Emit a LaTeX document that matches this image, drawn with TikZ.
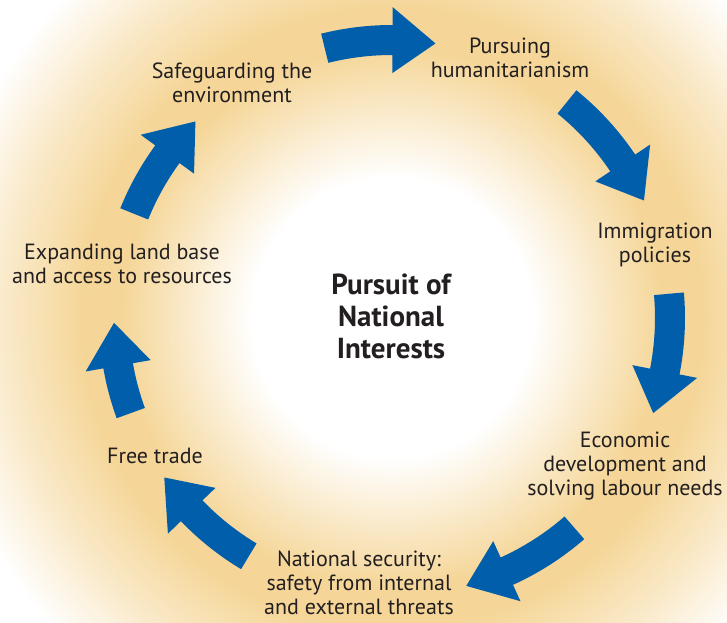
\documentclass[tikz,border=0pt]{standalone}
\usepackage{fontspec}
\setmainfont{PT Sans}
\definecolor{glow}{RGB}{245,214,152}
\definecolor{arrowblue}{RGB}{0,94,170}
\definecolor{ink}{RGB}{35,31,32}
% soft orange ring around a white centre
\pgfdeclareradialshading{ringglow}{\pgfpointorigin}{%
  color(0bp)=(white); color(7bp)=(white); color(13.5bp)=(glow);
  color(15.5bp)=(glow); color(19.5bp)=(glow!50!white); color(23bp)=(white);
  color(50bp)=(white)}
\tikzset{
  label/.style={font=\fontsize{22}{24}\selectfont, text=ink, align=center, inner sep=0pt},
  title/.style={font=\fontsize{29}{32}\selectfont\bfseries, text=ink, align=center, inner sep=0pt},
}
% curved block arrow on the circle: start angle, tip angle (clockwise)
\newcommand\cyclearrow[2]{%
  \pgfmathsetmacro\hb{#2+8.9}%
  \fill[arrowblue] (#1:263pt) arc[start angle=#1, end angle=\hb, radius=263pt]
    -- (\hb:245pt) -- (#2:278pt) -- (\hb:311pt) -- (\hb:293pt)
    arc[start angle=\hb, end angle=#1, radius=293pt] -- cycle;}
\begin{document}
\begin{tikzpicture}[x=1pt,y=1pt]
\useasboundingbox (-392,-304) rectangle (335,318);
\begin{scope}
  \clip (-392,-304) rectangle (335,318);
  \shade[shading=ringglow] (0,0) circle[radius=500pt];
\end{scope}

\cyclearrow{104}{81}
\cyclearrow{51}{25}
\cyclearrow{5}{-20}
\cyclearrow{-49}{-74.5}
\cyclearrow{-121}{-145}
\cyclearrow{-160}{-179}
\cyclearrow{158}{135}

\node[title] (centre) at (-1,2) {Pursuit of\\National\\Interests};
\node[label] (env) at (-160,235) {Safeguarding the\\environment};
\node[label] (hum) at (118,260) {Pursuing\\humanitarianism};
\node[label] (imm) at (263,73) {Immigration\\policies};
\node[label] (eco) at (233,-148) {Economic\\development and\\solving labour needs};
\node[label] (sec) at (-33,-265) {National security:\\safety from internal\\and external threats};
\node[label] (trade) at (-237,-138) {Free trade};
\node[label] (land) at (-270,54) {Expanding land base\\and access to resources};
\end{tikzpicture}
\end{document}
